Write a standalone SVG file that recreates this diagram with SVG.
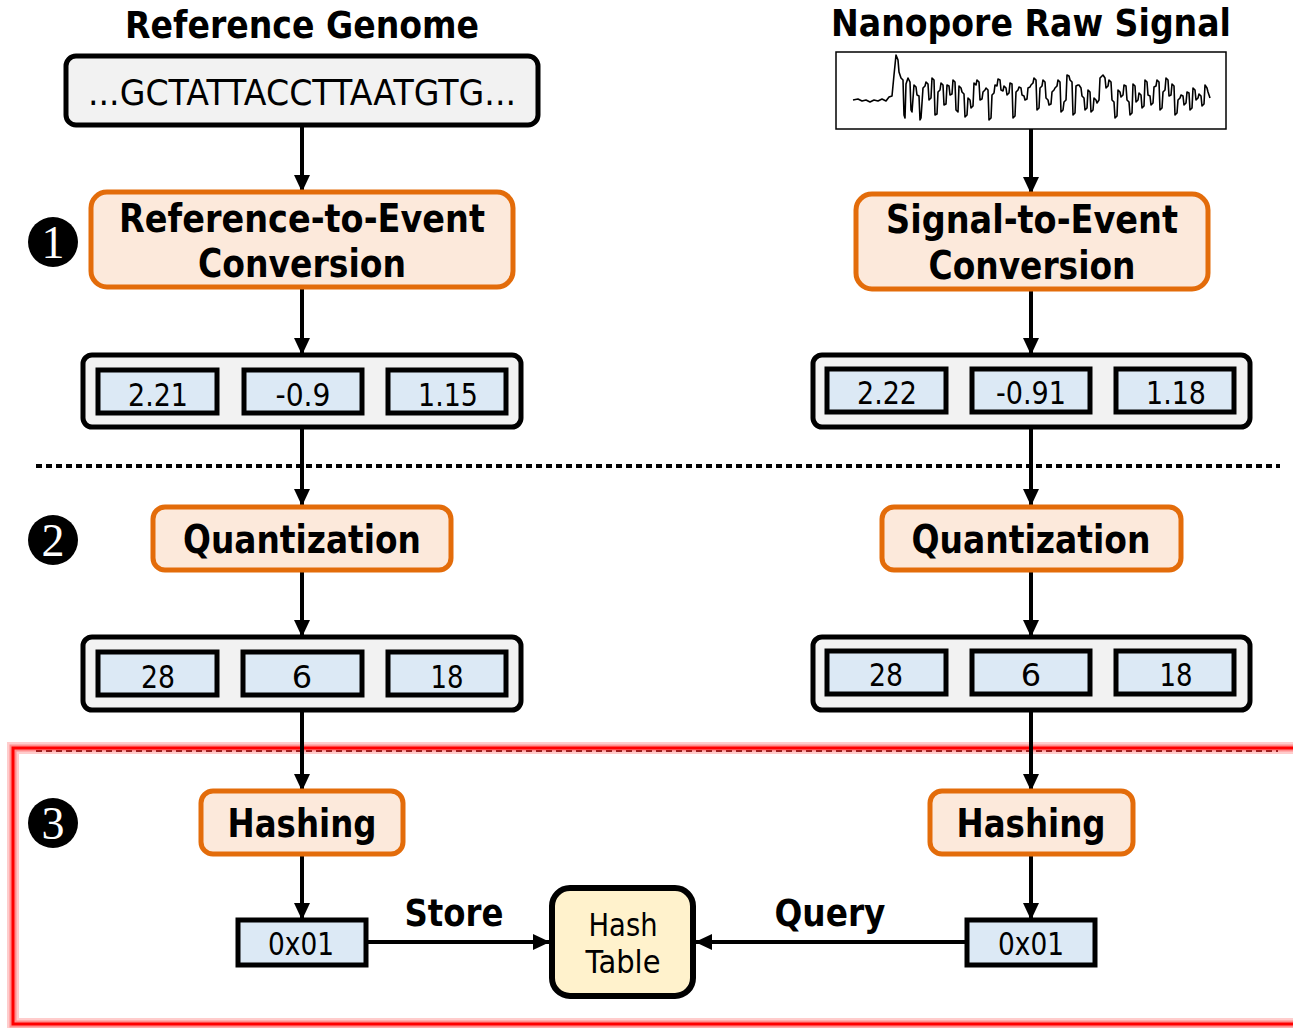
<svg xmlns="http://www.w3.org/2000/svg" width="1293" height="1028" viewBox="0 0 1293 1028">
<style>
text{font-family:"DejaVu Sans","Liberation Sans",sans-serif;fill:#000;text-anchor:middle}
.b{font-weight:bold}
.title{font-size:37px;font-weight:bold}
.step{fill:#fce9db;stroke:#e36c0a;stroke-width:5}
.stepT{font-size:39px;font-weight:bold}
.grp{fill:#f2f2f2;stroke:#000;stroke-width:5}
.cell{fill:#dce9f5;stroke:#000;stroke-width:5}
.num{font-size:32px}
.conn{stroke:#000;stroke-width:4;fill:none}
.dots{stroke:#000;stroke-width:4;stroke-dasharray:6 4}
.mk{fill:#000}
.mkT{font-family:"Liberation Serif","DejaVu Serif",serif;font-size:46px;fill:#fff}
</style>
<defs>
<marker id="ah" markerUnits="userSpaceOnUse" markerWidth="18" markerHeight="18" refX="17" refY="9" orient="auto">
<path d="M0,1 L17,9 L0,17 z" fill="#000"/>
</marker>
</defs>
<rect width="1293" height="1028" fill="#fff"/>

<!-- separators -->
<line class="dots" x1="36" y1="466" x2="1280" y2="466"/>
<line x1="36" y1="751" x2="1278" y2="751" stroke="#400" stroke-width="2" stroke-dasharray="6 4" stroke-opacity="0.8"/>
<g id="region3">
<rect x="13" y="748" width="1300" height="276" fill="none" stroke="#ff0000" stroke-opacity="0.2" stroke-width="12"/>
<rect x="13" y="748" width="1300" height="276" fill="none" stroke="#ff0000" stroke-opacity="0.3" stroke-width="7"/>
<rect x="13" y="748" width="1300" height="276" fill="none" stroke="#ff0000" stroke-width="3"/>
</g>

<!-- connectors -->
<g id="connectors">
<line class="conn" x1="302" y1="125" x2="302" y2="192" marker-end="url(#ah)"/>
<line class="conn" x1="302" y1="287" x2="302" y2="355" marker-end="url(#ah)"/>
<line class="conn" x1="302" y1="427" x2="302" y2="506" marker-end="url(#ah)"/>
<line class="conn" x1="302" y1="570" x2="302" y2="637" marker-end="url(#ah)"/>
<line class="conn" x1="302" y1="710" x2="302" y2="791" marker-end="url(#ah)"/>
<line class="conn" x1="302" y1="854" x2="302" y2="920" marker-end="url(#ah)"/>
<line class="conn" x1="1031" y1="129" x2="1031" y2="194" marker-end="url(#ah)"/>
<line class="conn" x1="1031" y1="289" x2="1031" y2="355" marker-end="url(#ah)"/>
<line class="conn" x1="1031" y1="427" x2="1031" y2="506" marker-end="url(#ah)"/>
<line class="conn" x1="1031" y1="570" x2="1031" y2="637" marker-end="url(#ah)"/>
<line class="conn" x1="1031" y1="710" x2="1031" y2="791" marker-end="url(#ah)"/>
<line class="conn" x1="1031" y1="854" x2="1031" y2="920" marker-end="url(#ah)"/>
<line class="conn" x1="366" y1="942" x2="550" y2="942" marker-end="url(#ah)"/>
<line class="conn" x1="967" y1="942" x2="695" y2="942" marker-end="url(#ah)"/>
<text class="b" x="454" y="926" font-size="37" textLength="99" lengthAdjust="spacingAndGlyphs">Store</text>
<text class="b" x="830" y="926" font-size="37" textLength="111" lengthAdjust="spacingAndGlyphs">Query</text>
</g>

<!-- titles and inputs -->
<g id="refGenome">
<text class="title" x="302" y="38" textLength="354" lengthAdjust="spacingAndGlyphs">Reference Genome</text>
<rect x="66" y="56" width="472" height="69" rx="10" class="grp"/>
<text x="302" y="105" font-size="36" textLength="428" lengthAdjust="spacingAndGlyphs">...GCTATTACCTTAATGTG...</text>
</g>
<g id="rawSignal">
<text class="title" x="1031" y="36" textLength="400" lengthAdjust="spacingAndGlyphs">Nanopore Raw Signal</text>
<rect x="836" y="52" width="390" height="77" fill="#fff" stroke="#000" stroke-width="1.5"/>
<polyline fill="none" stroke="#000" stroke-width="1.6" stroke-linejoin="round" points="853,100 858,99 862,101 866,100 870,102 874,100 878,101 882,99 886,101 889,97 892,96 894,75 896,55 898,60 899,72 901,78 903,80 904,115 905,118 906,84 908,78 910,82 911,110 912,112 914,85 916,87 917,95 919,96 920,120 921,118 923,88 925,86 926,82 928,84 929,100 931,98 932,78 934,80 935,115 937,114 938,92 940,90 941,83 943,85 944,105 946,104 947,85 949,86 950,95 952,94 953,80 955,82 956,110 958,112 959,86 961,88 962,92 964,94 965,117 967,115 968,98 970,100 971,108 973,106 974,83 976,85 977,80 979,82 980,100 982,99 983,92 985,90 986,88 988,90 989,120 991,118 992,95 994,93 995,85 997,86 998,79 1000,80 1001,90 1003,91 1004,86 1006,88 1007,95 1009,93 1010,83 1012,84 1013,118 1015,116 1016,92 1018,90 1019,87 1021,88 1022,95 1024,96 1025,100 1027,99 1028,88 1030,87 1031,85 1033,83 1034,78 1036,80 1037,110 1039,108 1040,88 1042,86 1043,80 1045,82 1046,98 1048,100 1049,105 1051,104 1052,92 1054,90 1055,88 1057,86 1058,80 1060,82 1061,112 1063,110 1064,102 1066,100 1067,75 1069,76 1070,80 1072,82 1073,115 1075,113 1076,86 1078,85 1079,85 1081,88 1082,96 1084,98 1085,110 1087,108 1088,90 1090,92 1091,112 1093,110 1094,98 1096,100 1097,103 1099,100 1100,78 1102,76 1103,75 1105,78 1106,88 1108,86 1109,80 1111,82 1112,100 1114,102 1115,118 1117,116 1118,90 1120,92 1121,97 1123,95 1124,85 1126,86 1127,100 1129,102 1130,115 1132,113 1133,84 1135,86 1136,102 1138,100 1139,93 1141,95 1142,108 1144,106 1145,80 1147,82 1148,95 1150,96 1151,105 1153,103 1154,87 1156,86 1157,80 1159,82 1160,110 1162,108 1163,92 1165,90 1166,78 1168,80 1169,96 1171,95 1172,84 1174,86 1175,115 1177,113 1178,100 1180,98 1181,95 1183,96 1184,105 1186,103 1187,92 1189,93 1190,110 1192,108 1193,88 1195,90 1196,100 1198,98 1199,94 1201,96 1202,106 1204,104 1205,85 1207,88 1208,92 1210,98"/>
</g>

<!-- step markers -->
<g id="marker1"><circle cx="53" cy="242" r="25" class="mk"/><text class="mkT" x="53" y="258">1</text></g>
<g id="marker2"><circle cx="53" cy="540" r="25" class="mk"/><text class="mkT" x="53" y="556">2</text></g>
<g id="marker3"><circle cx="53" cy="823" r="25" class="mk"/><text class="mkT" x="53" y="839">3</text></g>

<!-- step 1 -->
<g id="refToEvent">
<rect x="91" y="192" width="422" height="95" rx="16" class="step"/>
<text class="stepT" x="302" y="232" textLength="366" lengthAdjust="spacingAndGlyphs">Reference-to-Event</text>
<text class="stepT" x="302" y="277" textLength="208" lengthAdjust="spacingAndGlyphs">Conversion</text>
</g>
<g id="sigToEvent">
<rect x="856" y="194" width="352" height="95" rx="16" class="step"/>
<text class="stepT" x="1032" y="233" textLength="292" lengthAdjust="spacingAndGlyphs">Signal-to-Event</text>
<text class="stepT" x="1032" y="279" textLength="207" lengthAdjust="spacingAndGlyphs">Conversion</text>
</g>

<g id="refEvents">
<rect x="83" y="355" width="438" height="72" rx="9" class="grp"/>
<rect x="98" y="370" width="119" height="43" class="cell"/>
<rect x="244" y="370" width="118" height="43" class="cell"/>
<rect x="388" y="370" width="118" height="43" class="cell"/>
<text class="num" x="158" y="406" textLength="60" lengthAdjust="spacingAndGlyphs">2.21</text>
<text class="num" x="303" y="406" textLength="55" lengthAdjust="spacingAndGlyphs">-0.9</text>
<text class="num" x="448" y="406" textLength="60" lengthAdjust="spacingAndGlyphs">1.15</text>
</g>
<g id="sigEvents">
<rect x="813" y="355" width="437" height="72" rx="9" class="grp"/>
<rect x="827" y="369" width="119" height="43" class="cell"/>
<rect x="972" y="369" width="118" height="43" class="cell"/>
<rect x="1116" y="369" width="118" height="43" class="cell"/>
<text class="num" x="887" y="404" textLength="60" lengthAdjust="spacingAndGlyphs">2.22</text>
<text class="num" x="1031" y="404" textLength="70" lengthAdjust="spacingAndGlyphs">-0.91</text>
<text class="num" x="1176" y="404" textLength="60" lengthAdjust="spacingAndGlyphs">1.18</text>
</g>

<!-- step 2 -->
<g id="quantLeft">
<rect x="153" y="507" width="298" height="63" rx="12" class="step"/>
<text class="stepT" x="302" y="553" textLength="238" lengthAdjust="spacingAndGlyphs">Quantization</text>
</g>
<g id="quantRight">
<rect x="882" y="507" width="299" height="63" rx="12" class="step"/>
<text class="stepT" x="1031" y="553" textLength="239" lengthAdjust="spacingAndGlyphs">Quantization</text>
</g>
<g id="refQuant">
<rect x="83" y="637" width="438" height="73" rx="9" class="grp"/>
<rect x="98" y="652" width="119" height="43" class="cell"/>
<rect x="243" y="652" width="119" height="43" class="cell"/>
<rect x="388" y="652" width="118" height="43" class="cell"/>
<text class="num" x="158" y="688" textLength="34" lengthAdjust="spacingAndGlyphs">28</text>
<text class="num" x="302" y="688">6</text>
<text class="num" x="447" y="688" textLength="33" lengthAdjust="spacingAndGlyphs">18</text>
</g>
<g id="sigQuant">
<rect x="813" y="637" width="437" height="73" rx="9" class="grp"/>
<rect x="827" y="651" width="119" height="43" class="cell"/>
<rect x="972" y="651" width="118" height="43" class="cell"/>
<rect x="1116" y="651" width="118" height="43" class="cell"/>
<text class="num" x="886" y="686" textLength="34" lengthAdjust="spacingAndGlyphs">28</text>
<text class="num" x="1031" y="686">6</text>
<text class="num" x="1176" y="686" textLength="33" lengthAdjust="spacingAndGlyphs">18</text>
</g>

<!-- step 3 -->
<g id="hashLeft">
<rect x="201" y="791" width="202" height="63" rx="12" class="step"/>
<text class="stepT" x="302" y="837" textLength="149" lengthAdjust="spacingAndGlyphs">Hashing</text>
</g>
<g id="hashRight">
<rect x="930" y="791" width="203" height="63" rx="12" class="step"/>
<text class="stepT" x="1031" y="837" textLength="149" lengthAdjust="spacingAndGlyphs">Hashing</text>
</g>
<g id="keyLeft">
<rect x="238" y="920" width="128" height="45" class="cell"/>
<text class="num" x="301" y="955" textLength="66" lengthAdjust="spacingAndGlyphs">0x01</text>
</g>
<g id="keyRight">
<rect x="967" y="920" width="128" height="45" class="cell"/>
<text class="num" x="1031" y="955" textLength="66" lengthAdjust="spacingAndGlyphs">0x01</text>
</g>
<g id="hashTable">
<rect x="552" y="888" width="141" height="108" rx="18" fill="#fff2cc" stroke="#000" stroke-width="6"/>
<text class="num" x="623" y="936" textLength="69" lengthAdjust="spacingAndGlyphs">Hash</text>
<text class="num" x="623" y="973" textLength="75" lengthAdjust="spacingAndGlyphs">Table</text>
</g>
</svg>
